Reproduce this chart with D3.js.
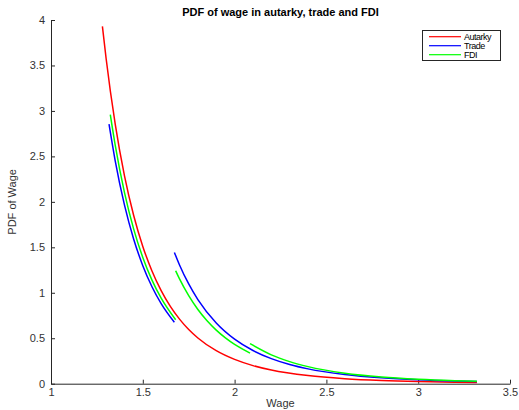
<!DOCTYPE html>
<html>
<head>
<meta charset="utf-8">
<script src="https://cdn.jsdelivr.net/npm/d3@7"></script>
<style>
  body { margin: 0; background: #fff; }
  svg { display: block; font-family: "Liberation Sans", Arial, sans-serif; }
</style>
</head>
<body>
<svg id="chart" width="519" height="410"></svg>
<script>
// ---- data; null = break between segments ----
const autarkyWage = [1.28, 1.30, 1.35, 1.40, 1.45, 1.50, 1.55, 1.60, 1.65, 1.70, 1.75, 1.80, 1.90, 2.00, 2.10, 2.20, 2.40, 2.60, 2.80, 3.00, 3.20, 3.32];
const autarkyPdf  = [3.93, 3.579, 2.851, 2.289, 1.853, 1.510, 1.239, 1.023, 0.850, 0.710, 0.596, 0.503, 0.363, 0.267, 0.199, 0.150, 0.089, 0.055, 0.035, 0.023, 0.016, 0.013];

const tradeWage = [1.316, 1.35, 1.40, 1.45, 1.50, 1.55, 1.60, 1.672, null,
                   1.672, 1.70, 1.75, 1.80, 1.90, 2.00, 2.10, 2.20, 2.30, 2.40, 2.60, 2.80, 3.00, 3.20, 3.32];
const tradePdf  = [2.854, 2.448, 1.966, 1.592, 1.298, 1.066, 0.880, 0.675, null,
                   1.444, 1.306, 1.097, 0.925, 0.668, 0.490, 0.365, 0.276, 0.211, 0.163, 0.101, 0.0645, 0.0425, 0.0288, 0.0231];

const fdiWage = [1.323, 1.35, 1.40, 1.45, 1.50, 1.55, 1.60, 1.679, null,
                 1.679, 1.70, 1.75, 1.80, 1.85, 1.90, 1.95, 2.00, 2.084, null,
                 2.084, 2.20, 2.30, 2.40, 2.60, 2.80, 3.00, 3.20, 3.32];
const fdiPdf  = [2.96, 2.621, 2.105, 1.703, 1.388, 1.139, 0.941, 0.704, null,
                 1.242, 1.152, 0.968, 0.816, 0.692, 0.589, 0.504, 0.432, 0.337, null,
                 0.44, 0.317, 0.243, 0.188, 0.116, 0.0741, 0.0489, 0.0331, 0.0265];

const seriesNames  = ["Autarky", "Trade", "FDI"];
const seriesColors = ["#ff0000", "#0000ff", "#00ff00"];
const xTicks = [1, 1.5, 2, 2.5, 3, 3.5];
const yTicks = [0, 0.5, 1, 1.5, 2, 2.5, 3, 3.5, 4];
const titleText = "PDF of wage in autarky, trade and FDI";
const xLabel = "Wage";
const yLabel = "PDF of Wage";

// ---- layout ----
const svg = d3.select("#chart");
const mLeft = 51, mRight = 510, mTop = 20, mBottom = 383.7;

const x = d3.scaleLinear().domain([1, 3.5]).range([mLeft, mRight]);
const y = d3.scaleLinear().domain([0, 4]).range([mBottom, mTop]);

const axisColor = "#262626";

// axes
const gx = svg.append("g").attr("transform", `translate(0,${mBottom})`)
  .call(d3.axisBottom(x).tickValues(xTicks).tickFormat(d3.format("~g"))
    .tickSizeInner(-4).tickSizeOuter(0).tickPadding(5));
const gy = svg.append("g").attr("transform", `translate(${mLeft},0)`)
  .call(d3.axisLeft(y).tickValues(yTicks).tickFormat(d3.format("~g"))
    .tickSizeInner(-4).tickSizeOuter(0).tickPadding(6));

[gx, gy].forEach(g => {
  g.selectAll(".domain").attr("stroke", axisColor).attr("stroke-width", 1);
  g.selectAll(".tick line").attr("stroke", axisColor);
  g.selectAll(".tick text").attr("fill", "#333").attr("font-size", 11)
    .attr("font-family", "'Liberation Sans', Arial, sans-serif");
});

// series
const series = [
  {wage: autarkyWage, pdf: autarkyPdf},
  {wage: tradeWage, pdf: tradePdf},
  {wage: fdiWage, pdf: fdiPdf}
];
const line = d3.line()
  .defined(d => d[0] !== null && d[1] !== null)
  .x(d => x(d[0])).y(d => y(d[1]))
  .curve(d3.curveMonotoneX);

series.forEach((s, i) => {
  const pts = s.wage.map((w, j) => [w, s.pdf[j]]);
  svg.append("path")
    .attr("d", line(pts))
    .attr("fill", "none")
    .attr("stroke", seriesColors[i])
    .attr("stroke-width", 1.5);
});

// title
svg.append("text")
  .attr("x", (mLeft + mRight) / 2).attr("y", 16)
  .attr("text-anchor", "middle")
  .attr("font-size", 11).attr("font-weight", "bold").attr("fill", "#000")
  .text(titleText);

// axis labels
svg.append("text")
  .attr("x", (mLeft + mRight) / 2).attr("y", 407)
  .attr("text-anchor", "middle")
  .attr("font-size", 11).attr("fill", "#333")
  .text(xLabel);
svg.append("text")
  .attr("transform", `translate(16,${(mTop + mBottom) / 2}) rotate(-90)`)
  .attr("text-anchor", "middle")
  .attr("font-size", 11).attr("fill", "#333")
  .text(yLabel);

// legend
const lg = svg.append("g");
lg.append("rect")
  .attr("x", 422.5).attr("y", 30.5).attr("width", 78).attr("height", 30)
  .attr("fill", "#fff").attr("stroke", axisColor).attr("stroke-width", 1);
seriesNames.forEach((name, i) => {
  const ly = 36.7 + i * 9;
  lg.append("line")
    .attr("x1", 429).attr("x2", 461).attr("y1", ly).attr("y2", ly)
    .attr("stroke", seriesColors[i]).attr("stroke-width", 1.2);
  lg.append("text")
    .attr("x", 464).attr("y", ly + 3.2)
    .attr("font-size", 9).attr("letter-spacing", -0.5).attr("fill", "#000")
    .text(name);
});
</script>
</body>
</html>
